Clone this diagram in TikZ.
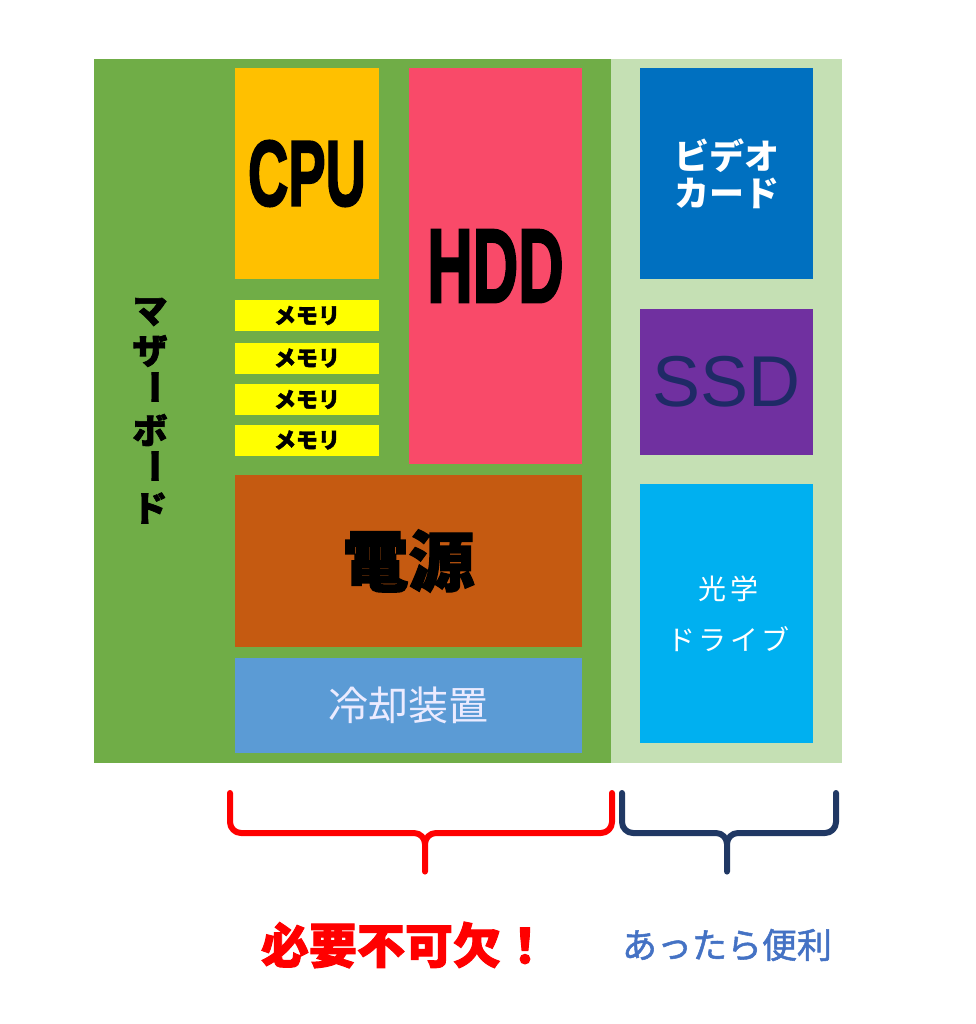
\documentclass[tikz,border=0pt]{standalone}
\usepackage{fontspec}
\setmainfont{Liberation Sans}
\newfontfamily\jp{Noto Sans CJK JP}
\newfontfamily\jpheavy{Noto Sans CJK JP}[BoldFeatures={FakeBold=2}]
\newfontfamily\jpmed{Noto Sans CJK JP}[FakeBold=1.5]
\newfontfamily\condfont{Liberation Sans}[BoldFeatures={FakeBold=2.5}]
\usepackage{graphicx}
\definecolor{boardg}{HTML}{70AD47}
\definecolor{lightg}{HTML}{C5E0B4}
\definecolor{cpuc}{HTML}{FFC000}
\definecolor{hddc}{HTML}{F94A69}
\definecolor{memc}{HTML}{FFFF00}
\definecolor{powc}{HTML}{C55A11}
\definecolor{coolc}{HTML}{5B9BD5}
\definecolor{vidc}{HTML}{0070C0}
\definecolor{ssdc}{HTML}{7030A0}
\definecolor{optc}{HTML}{00B0F0}
\definecolor{ssdtext}{HTML}{1F2A66}
\definecolor{navyb}{HTML}{203864}
\definecolor{bluet}{HTML}{4472C4}
\definecolor{redc}{HTML}{FF0000}
\tikzset{
  blk/.style={draw=none, inner sep=0pt, outer sep=0pt, anchor=center},
  membox/.style={blk, fill=memc, minimum width=144pt, minimum height=31pt,
    font=\jpheavy\bfseries\fontsize{22}{24}\selectfont, text=black},
  mbchar/.style={blk, font=\jpheavy\bfseries\fontsize{35}{36}\selectfont, text=black},
  brace/.style={line width=6pt, line cap=round, line join=round, rounded corners=11pt}
}
\begin{document}
\begin{tikzpicture}[x=1pt,y=-1pt]
\useasboundingbox[fill=white] (0,0) rectangle (975,1024);
% boards
\node[blk, fill=boardg, minimum width=517pt, minimum height=704pt] (board) at (352.5,411) {};
\node[blk, fill=lightg, minimum width=231pt, minimum height=704pt] (ext) at (726.5,411) {};
% motherboard label
\node[mbchar] (m1) at (150,312) {マ};
\node[mbchar] (m2) at (150,351) {ザ};
\node[mbchar, rotate=-90] (m3) at (150,387) {ー};
\node[mbchar] (m4) at (150,430) {ボ};
\node[mbchar, rotate=-90] (m5) at (150,466) {ー};
\node[mbchar] (m6) at (150,508) {ド};
% CPU
\node[blk, fill=cpuc, minimum width=144pt, minimum height=211pt,
  font=\condfont\bfseries\fontsize{93}{93}\selectfont] (cpu) at (307,173.5) {\scalebox{0.6}[1]{CPU}};
% HDD
\node[blk, fill=hddc, minimum width=173pt, minimum height=396pt,
  font=\condfont\bfseries\fontsize{105}{105}\selectfont] (hdd) at (495.5,266) {\scalebox{0.6}[1]{HDD}};
% memory
\node[membox] (mem1) at (307,315.5) {メモリ};
\node[membox] (mem2) at (307,358) {メモリ};
\node[membox] (mem3) at (307,399.5) {メモリ};
\node[membox] (mem4) at (307,440) {メモリ};
% power
\node[blk, fill=powc, minimum width=347pt, minimum height=172pt,
  font=\jpheavy\bfseries\fontsize{66}{66}\selectfont] (pow) at (408.5,561) {電源};
% cooling
\node[blk, fill=coolc, minimum width=347pt, minimum height=95pt,
  font=\jp\fontsize{40}{40}\selectfont, text=white!92!blue] (cool) at (408.5,705.5) {冷却装置};
% video card
\node[blk, fill=vidc, minimum width=173pt, minimum height=211pt, align=center,
  font=\jp\bfseries\fontsize{35}{37}\selectfont, text=white] (vid) at (726.5,173.5) {ビデオ\\カード};
% SSD
\node[blk, fill=ssdc, minimum width=173pt, minimum height=146pt,
  font=\fontsize{72}{72}\selectfont, text=ssdtext] (ssd) at (726.5,382) {SSD};
% optical drive
\node[blk, fill=optc, minimum width=173pt, minimum height=259pt] (opt) at (726.5,613.5) {};
\node[blk, align=center, font=\jp\addfontfeature{LetterSpace=12}\fontsize{28}{51}\selectfont,
  text=white] (optlabel) at ([xshift=2pt]opt.center) {光学\\ドライブ};
% brackets
\coordinate (rl) at (230,793);
\coordinate (rr) at (612,793);
\coordinate (rt) at (425,878);
\draw[brace, redc] (rl) -- (230,833) -- (425,833) -- (rt) -- (425,833) -- (612,833) -- (rr);
\coordinate (bl) at (622,793);
\coordinate (br) at (836,793);
\coordinate (bt) at (727,878);
\draw[brace, navyb] (bl) -- (622,833) -- (727,833) -- (bt) -- (727,833) -- (836,833) -- (br);
% labels
\node[blk, font=\jpheavy\bfseries\fontsize{48}{48}\selectfont, text=redc] (must) at (405,945) {必要不可欠！};
\node[blk, font=\jpmed\fontsize{35}{35}\selectfont, text=bluet] (nice) at (727,945) {あったら便利};
\end{tikzpicture}
\end{document}
